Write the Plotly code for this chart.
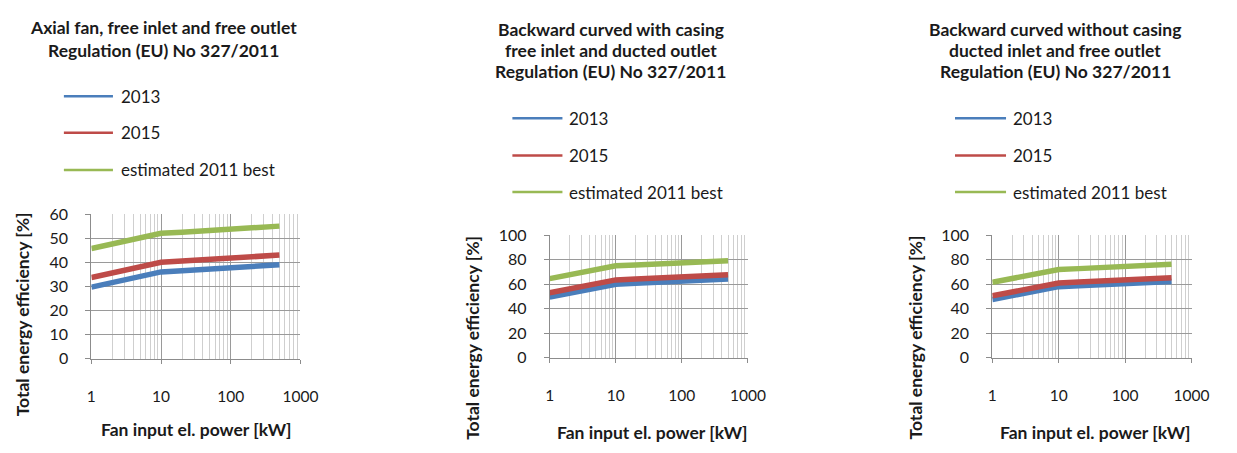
import plotly.graph_objects as go

W, H = 1237, 453

# ---------------- data ----------------
power_kw = [1, 2, 5, 10, 20, 50, 100, 200, 500]

axial_2013 = [29.7, 31.6, 34.1, 36.0, 36.5, 37.2, 37.7, 38.3, 39.0]
axial_2015 = [33.7, 35.6, 38.1, 40.0, 40.5, 41.2, 41.7, 42.3, 43.0]
axial_best = [45.7, 47.6, 50.1, 52.0, 52.5, 53.2, 53.7, 54.3, 55.0]

casing_2013 = [49.5, 52.7, 56.8, 60.0, 60.7, 61.7, 62.5, 63.2, 64.2]
casing_2015 = [53.0, 56.2, 60.3, 63.5, 64.2, 65.2, 66.0, 66.7, 67.7]
casing_best = [64.5, 67.7, 71.8, 75.0, 75.7, 76.7, 77.5, 78.2, 79.2]

nocasing_2013 = [47.5, 50.7, 54.8, 58.0, 58.7, 59.7, 60.5, 61.2, 62.2]
nocasing_2015 = [50.5, 53.7, 57.8, 61.0, 61.7, 62.7, 63.5, 64.2, 65.2]
nocasing_best = [61.5, 64.7, 68.8, 72.0, 72.7, 73.7, 74.5, 75.2, 76.2]

series_names = ["2013", "2015", "estimated 2011 best"]
x_tick_vals = [1, 10, 100, 1000]
x_tick_text = ["1", "10", "100", "1000"]

titles = [
    ["Axial fan, free inlet and free outlet", "Regulation (EU) No 327/2011"],
    ["Backward curved with casing", "free inlet and ducted outlet", "Regulation (EU) No 327/2011"],
    ["Backward curved without casing", "ducted inlet and free outlet", "Regulation (EU) No 327/2011"],
]
x_title = "Fan input el. power [kW]"
y_title = "Total energy efficiency [%]"

panels = [
    dict(data=[axial_2013, axial_2015, axial_best], ymax=60, dy=10),
    dict(data=[casing_2013, casing_2015, casing_best], ymax=100, dy=20),
    dict(data=[nocasing_2013, nocasing_2015, nocasing_best], ymax=100, dy=20),
]

# ---------------- layout geometry (pixels) ----------------
colors = ["#4A7EBB", "#BE4B48", "#98B954"]
FONT = "Lato"
TXT = "#1a1a1a"

geo = [
    dict(x0=88, x1=301, y0=213, y1=364, title_cx=162, title_y=[18, 42],
         leg_x0=60, leg_x1=110, leg_tx=116, leg_y=[90, 128, 167],
         xt_cx=195, xt_y=438, yt_x=18, yt_cy=318),
    dict(x0=555, x1=757, y0=235, y1=363, title_cx=617, title_y=[20, 42, 64],
         leg_x0=517, leg_x1=568, leg_tx=573, leg_y=[113, 152, 190],
         xt_cx=660, xt_y=441, yt_x=477, yt_cy=342),
    dict(x0=1006, x1=1209, y0=235, y1=363, title_cx=1070, title_y=[20, 42, 64],
         leg_x0=968, leg_x1=1020, leg_tx=1025, leg_y=[113, 152, 190],
         xt_cx=1111, xt_y=441, yt_x=928, yt_cy=342),
]


def px(x):
    return x / W


def py(y):
    return 1 - y / H


fig = go.Figure()
layout = dict(
    width=W, height=H,
    margin=dict(l=0, r=0, t=0, b=0),
    paper_bgcolor="white", plot_bgcolor="white",
    showlegend=False,
    font=dict(family=FONT, color=TXT),
)
annotations = []
shapes = []

for i, (p, g) in enumerate(zip(panels, geo)):
    n = "" if i == 0 else str(i + 1)
    xa, ya = "x" + n, "y" + n
    for s, (vals, col) in enumerate(zip(p["data"], colors)):
        fig.add_trace(go.Scatter(
            x=power_kw, y=vals, mode="lines", name=series_names[s],
            line=dict(color=col, width=5.5), xaxis=xa, yaxis=ya,
            hoverinfo="skip"))
    layout["xaxis" + n] = dict(
        type="log", range=[0, 3], domain=[px(g["x0"]), px(g["x1"])],
        anchor=ya, tickvals=x_tick_vals, ticktext=x_tick_text,
        showgrid=True, gridcolor="#9a9a9a", gridwidth=1,
        minor=dict(dtick="D1", showgrid=True, gridcolor="#cfcfcf", gridwidth=1,
                   ticks=""),
        showline=True, linecolor="#8c8c8c", linewidth=1,
        ticks="outside", ticklen=4, tickcolor="#8c8c8c",
        ticklabelstandoff=20,
        tickfont=dict(family=FONT, size=15.5, color=TXT),
        zeroline=False, mirror=False, fixedrange=True,
    )
    layout["yaxis" + n] = dict(
        range=[0, p["ymax"]], domain=[py(g["y1"]), py(g["y0"])],
        anchor=xa, dtick=p["dy"], tick0=0,
        showgrid=True, gridcolor="#9a9a9a", gridwidth=1,
        showline=True, linecolor="#8c8c8c", linewidth=1,
        ticks="outside", ticklen=5, tickcolor="#8c8c8c",
        ticklabelstandoff=14,
        tickfont=dict(family=FONT, size=16, color=TXT),
        zeroline=False, fixedrange=True,
    )
    # titles
    for line, ty in zip(titles[i], g["title_y"]):
        annotations.append(dict(
            text="<b>" + line + "</b>", x=px(g["title_cx"]), y=py(ty),
            xref="paper", yref="paper", xanchor="center", yanchor="middle",
            showarrow=False, font=dict(family=FONT, size=17.5, color=TXT)))
    # legend
    for s, ly in enumerate(g["leg_y"]):
        shapes.append(dict(
            type="line", xref="paper", yref="paper",
            x0=px(g["leg_x0"]), x1=px(g["leg_x1"]), y0=py(ly), y1=py(ly),
            line=dict(color=colors[s], width=2.5)))
        annotations.append(dict(
            text=series_names[s], x=px(g["leg_tx"]), y=py(ly),
            xref="paper", yref="paper", xanchor="left", yanchor="middle",
            showarrow=False, font=dict(family=FONT, size=17, color=TXT)))
    # axis titles
    annotations.append(dict(
        text="<b>" + x_title + "</b>", x=px(g["xt_cx"]), y=py(g["xt_y"]),
        xref="paper", yref="paper", xanchor="center", yanchor="middle",
        showarrow=False, font=dict(family=FONT, size=17.5, color=TXT)))
    annotations.append(dict(
        text="<b>" + y_title + "</b>", x=px(g["yt_x"]), y=py(g["yt_cy"]),
        xref="paper", yref="paper", xanchor="center", yanchor="middle",
        textangle=-90, showarrow=False,
        font=dict(family=FONT, size=17.5, color=TXT)))

layout["annotations"] = annotations
layout["shapes"] = shapes
fig.update_layout(**layout)
fig.write_html(
    "out.html",
    config={"displayModeBar": False},
    post_script="document.body.style.margin='0';document.body.style.padding='0';",
)
